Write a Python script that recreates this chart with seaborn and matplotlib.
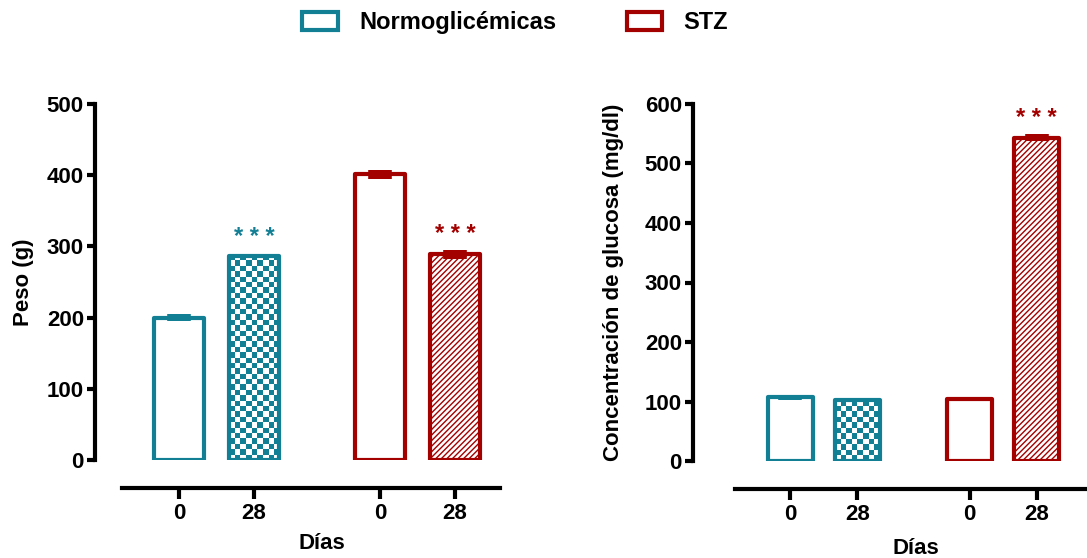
import numpy as np
import pandas as pd
import seaborn as sns
import matplotlib.pyplot as plt
from matplotlib.colors import ListedColormap
from matplotlib.patches import Patch

sns.set_style("white")
plt.rcParams['font.family'] = ['Liberation Sans', 'DejaVu Sans']
plt.rcParams['font.weight'] = 'bold'
plt.rcParams['hatch.linewidth'] = 1.0
plt.rcParams['text.color'] = 'black'
plt.rcParams['axes.labelcolor'] = 'black'
plt.rcParams['xtick.color'] = 'black'
plt.rcParams['ytick.color'] = 'black'
plt.rcParams['axes.edgecolor'] = 'black'

TEAL = '#137f94'
RED = '#a30000'

grupos = ["Normoglicémicas", "Normoglicémicas", "STZ", "STZ"]
dias = ["0", "28", "0", "28"]
posicion = [0, 1, 2.68, 3.68]
peso = [200, 287, 401, 289]
peso_sem = [5, 3, 7, 6]
peso_signif = ["", "* * *", "", "* * *"]
glucosa = [107, 102, 104, 543]
glucosa_sem = [4, 2, 3, 6]
glucosa_signif = ["", "", "", "* * *"]

df = pd.DataFrame({"grupo": grupos, "dia": dias, "pos": posicion,
                   "peso": peso, "peso_sem": peso_sem,
                   "glucosa": glucosa, "glucosa_sem": glucosa_sem})
colores = [TEAL if g == "Normoglicémicas" else RED for g in grupos]

fig = plt.figure(figsize=(10.87, 5.58), dpi=100)
ax1 = fig.add_axes([95 / 1087, 1 - 460 / 558, (500 - 95) / 1087, 356 / 558])
ax2 = fig.add_axes([693 / 1087, 1 - 461 / 558, (1087 - 693) / 1087, 357 / 558])


def checker(ax, p, color):
    # checkerboard fill clipped to the bar
    x0, y0 = p.get_x(), p.get_y()
    x1, y1 = x0 + p.get_width(), y0 + p.get_height()
    (px0, py0), (px1, py1) = ax.transData.transform([(x0, y0), (x1, y1)])
    nx = max(1, int(round((px1 - px0) / 5.4)))
    ny = max(1, int(round((py1 - py0) / 5.4)))
    img = np.indices((ny, nx)).sum(axis=0) % 2
    im = ax.imshow(img, extent=(x0, x1, y0, y1), aspect='auto', origin='lower',
                   cmap=ListedColormap(['white', color]), interpolation='nearest',
                   zorder=0.5)
    im.set_clip_path(p)


def panel(ax, col, sem_col, signif, ymax, ylabel, xmin, xmax, xspine_min, lab_x, lab_y):
    sns.barplot(data=df, x="pos", y=col, hue="grupo", native_scale=True,
                palette={"Normoglicémicas": TEAL, "STZ": RED}, width=0.67,
                legend=False, ax=ax, errorbar=None)
    ax.set_xlim(xmin, xmax)
    ax.set_ylim(0, ymax)
    for i, p in enumerate(ax.patches):
        p.set_facecolor('white')
        p.set_edgecolor(colores[i])
        p.set_linewidth(3)
        p.set_joinstyle('round')
        p.set_zorder(1)
    # error bars and significance
    for i, p in enumerate(ax.patches):
        xc = p.get_x() + p.get_width() / 2
        ax.errorbar(xc, df[col][i], yerr=df[sem_col][i], fmt='none',
                    elinewidth=17, ecolor=colores[i], capsize=0, zorder=2)
        if signif[i]:
            ax.annotate(signif[i], xy=(xc, df[col][i] + df[sem_col][i]),
                        xytext=(0, 3), textcoords='offset points',
                        ha='center', va='bottom', color=colores[i],
                        fontsize=17, fontweight='bold')
    # patterned fills for day 28
    for i, p in enumerate(ax.patches):
        if dias[i] == "28" and grupos[i] == "Normoglicémicas":
            p.set_facecolor('none')
            checker(ax, p, colores[i])
        elif dias[i] == "28":
            p.set_hatch('//////')
    ax.set_xlim(xmin, xmax)
    ax.set_ylim(0, ymax)

    sns.despine(ax=ax)
    ax.spines['left'].set_linewidth(3)
    ax.spines['bottom'].set_linewidth(3)
    ax.spines['left'].set_bounds(0, ymax)
    ax.spines['bottom'].set_position(('outward', 20))
    ax.spines['bottom'].set_bounds(xspine_min, xmax)
    ax.set_yticks(np.arange(0, ymax + 1, 100))
    ax.set_xticks(posicion)
    ax.set_xticklabels(dias)
    ax.tick_params(axis='y', length=6, width=3, labelsize=16, pad=2, left=True)
    ax.tick_params(axis='x', length=8, width=3, labelsize=16, pad=3, bottom=True)
    ax.set_ylabel(ylabel, fontsize=16, fontweight='bold')
    ax.set_xlabel("Días", fontsize=16, fontweight='bold')
    ax.xaxis.set_label_coords(lab_x, lab_y)
    ax.patch.set_alpha(0)


panel(ax1, "peso", "peso_sem", peso_signif, 500, "Peso (g)",
      -1.12, 4.28, -0.76, 0.56, -0.205)
ax1.yaxis.set_label_coords(-0.15, 0.5)
panel(ax2, "glucosa", "glucosa_sem", glucosa_signif, 600,
      "Concentración de glucosa (mg/dl)", -1.45, 4.43, -0.82, 0.565, -0.215)
ax2.yaxis.set_label_coords(-0.175, 0.5)

handles = [Patch(facecolor='white', edgecolor=TEAL, linewidth=3, joinstyle='round'),
           Patch(facecolor='white', edgecolor=RED, linewidth=3, joinstyle='round')]
fig.legend(handles, ["Normoglicémicas", "STZ"], loc='upper center',
           bbox_to_anchor=(0.474, 1.018), ncol=2, frameon=False, fontsize=17,
           handlelength=1.5, handleheight=0.8, columnspacing=3.0, handletextpad=0.9)

fig.savefig("out.png", dpi=100)
